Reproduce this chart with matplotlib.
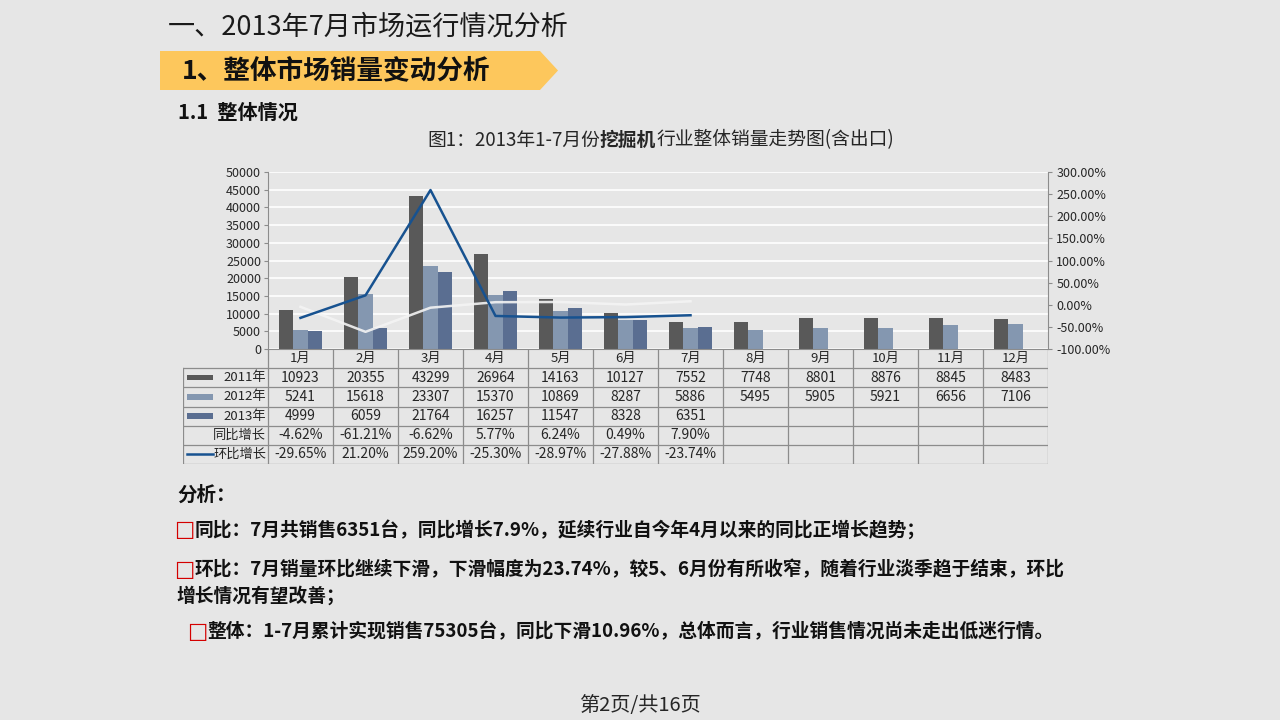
import matplotlib
matplotlib.use("Agg")
import matplotlib.pyplot as plt
from matplotlib.patches import Polygon, Rectangle

plt.rcParams["font.family"] = ["Noto Sans CJK SC", "DejaVu Sans"]

# data
months = ["1月", "2月", "3月", "4月", "5月", "6月", "7月", "8月", "9月", "10月", "11月", "12月"]
sales_2011 = [10923, 20355, 43299, 26964, 14163, 10127, 7552, 7748, 8801, 8876, 8845, 8483]
sales_2012 = [5241, 15618, 23307, 15370, 10869, 8287, 5886, 5495, 5905, 5921, 6656, 7106]
sales_2013 = [4999, 6059, 21764, 16257, 11547, 8328, 6351]
yoy_pct = [-4.62, -61.21, -6.62, 5.77, 6.24, 0.49, 7.90]     # 同比增长
mom_pct = [-29.65, 21.20, 259.20, -25.30, -28.97, -27.88, -23.74]  # 环比增长

left_ticks = list(range(0, 50001, 5000))
right_ticks = list(range(-100, 301, 50))

BG = "#e6e6e6"
TXT = "#262626"
LINE = "#8c8c8c"
C2011, C2012, C2013 = "#595959", "#8497b0", "#5a6e91"
CMOM = "#175290"

W, H = 1280, 720
fig = plt.figure(figsize=(12.8, 7.2), dpi=100, facecolor=BG)

# pixel-space overlay for slide texts
bg = fig.add_axes([0, 0, 1, 1], zorder=-1)
bg.set_xlim(0, W)
bg.set_ylim(H, 0)
bg.axis("off")

bg.text(168, 27, "一、2013年7月市场运行情况分析", fontsize=19.5, color="#1a1a1a",
        va="center", ha="left")
bg.add_patch(Polygon([(160, 51), (540, 51), (558, 70.5), (540, 90), (160, 90)],
                     closed=True, facecolor="#fdc75c", edgecolor="none"))
bg.text(182, 71, "1、整体市场销量变动分析", fontsize=19.2, fontweight="bold",
        color="#111111", va="center", ha="left")
bg.text(178, 112, "1.1  整体情况", fontsize=14.5, fontweight="bold",
        color="#111111", va="center", ha="left")

# chart title with bold middle part
t1 = bg.text(427, 140, "图1：2013年1-7月份", fontsize=13.5, color=TXT,
             va="center", ha="left")
t2 = bg.annotate("挖掘机", xy=(1, 0.5), xycoords=t1, fontsize=13.5, fontweight="bold",
                 color=TXT, va="center", ha="left")
bg.annotate("行业整体销量走势图(含出口)", xy=(1, 0.5), xycoords=t2, fontsize=13.5,
            color=TXT, va="center", ha="left")

# main chart
x0, x1, ytop, ybot = 268, 1048, 172, 349
ax = fig.add_axes([x0 / W, 1 - ybot / H, (x1 - x0) / W, (ybot - ytop) / H])
ax.set_facecolor("none")
ax.set_xlim(-0.5, 11.5)
ax.set_ylim(0, 50000)
ax.set_yticks(left_ticks)
ax.set_xticks([])
ax.yaxis.grid(True, color="white", linewidth=1.2)
ax.set_axisbelow(True)
for s in ["top", "right"]:
    ax.spines[s].set_visible(False)
for s in ["left", "bottom"]:
    ax.spines[s].set_color(LINE)
ax.tick_params(axis="y", labelsize=9, colors=LINE, labelcolor=TXT, length=3, pad=2)

bw = 0.22
ax.bar([i - bw for i in range(len(sales_2011))], sales_2011, width=bw, color=C2011, zorder=2)
ax.bar(list(range(len(sales_2012))), sales_2012, width=bw, color=C2012, zorder=2)
ax.bar([i + bw for i in range(len(sales_2013))], sales_2013, width=bw, color=C2013, zorder=2)

ax2 = ax.twinx()
ax2.set_ylim(-100, 300)
ax2.set_yticks(right_ticks)
ax2.set_yticklabels([f"{v:.2f}%" for v in right_ticks])
for s in ["top", "left", "bottom"]:
    ax2.spines[s].set_visible(False)
ax2.spines["right"].set_color(LINE)
ax2.tick_params(axis="y", labelsize=9, colors=LINE, labelcolor=TXT, length=3, pad=3)
ax2.plot(range(len(yoy_pct)), yoy_pct, color="#f4f4f4", linewidth=1.8, alpha=0.9)
ax2.plot(range(len(mom_pct)), mom_pct, color=CMOM, linewidth=1.8)

# data table below the chart
tx0, tbot = 183, 464
leg_w = (x0 - tx0) / ((x1 - x0) / 12)
tab = fig.add_axes([tx0 / W, 1 - tbot / H, (x1 - tx0) / W, (tbot - ybot) / H])
tab.set_xlim(-0.5 - leg_w, 11.5)
tab.set_ylim(6, 0)
tab.axis("off")
xl = -0.5 - leg_w
for r in range(1, 7):
    tab.plot([xl, 11.5], [r, r], color=LINE, linewidth=0.9)
tab.plot([xl, xl], [1, 6], color=LINE, linewidth=0.9)
for k in range(13):
    tab.plot([k - 0.5, k - 0.5], [0, 6], color=LINE, linewidth=0.9)

rows = [
    ("2011年", [str(v) for v in sales_2011], ("patch", C2011)),
    ("2012年", [str(v) for v in sales_2012], ("patch", C2012)),
    ("2013年", [str(v) for v in sales_2013], ("patch", C2013)),
    ("同比增长", [f"{v:.2f}%" for v in yoy_pct], None),
    ("环比增长", [f"{v:.2f}%" for v in mom_pct], ("line", CMOM)),
]
for i, m in enumerate(months):
    tab.text(i, 0.5, m, fontsize=9.5, color=TXT, ha="center", va="center")
for r, (label, vals, key) in enumerate(rows, start=1):
    yc = r + 0.5
    tab.text(-0.53, yc, label, fontsize=9.5, color=TXT, ha="right", va="center")
    if key is not None:
        kind, col = key
        if kind == "patch":
            tab.add_patch(Rectangle((xl + 0.06, yc - 0.14), 0.4, 0.28,
                                    facecolor=col, edgecolor="none"))
        else:
            tab.plot([xl + 0.06, xl + 0.46], [yc, yc], color=col, linewidth=1.8)
    for i, v in enumerate(vals):
        tab.text(i, yc, v, fontsize=10, color=TXT, ha="center", va="center")

# analysis text
bg.text(177, 495, "分析：", fontsize=14, fontweight="bold", color="#111111",
        va="center", ha="left")


def bullet(x, y, text):
    b = bg.text(x, y, "□", fontsize=15.5, color="#d40000", va="center", ha="left",
                family=["DejaVu Sans"])
    bg.annotate(text, xy=(1, 0.5), xycoords=b, fontsize=13.5, fontweight="bold",
                color="#111111", va="center", ha="left")


bullet(174, 530, "同比：7月共销售6351台，同比增长7.9%，延续行业自今年4月以来的同比正增长趋势；")
bullet(174, 570, "环比：7月销量环比继续下滑，下滑幅度为23.74%，较5、6月份有所收窄，随着行业淡季趋于结束，环比")
bg.text(176, 596, "增长情况有望改善；", fontsize=13.5, fontweight="bold", color="#111111",
        va="center", ha="left")
bullet(187, 632, "整体：1-7月累计实现销售75305台，同比下滑10.96%，总体而言，行业销售情况尚未走出低迷行情。")

bg.text(640, 705, "第2页/共16页", fontsize=14.5, color=TXT, va="center", ha="center")

fig.savefig("out.png", dpi=100, facecolor=BG)
